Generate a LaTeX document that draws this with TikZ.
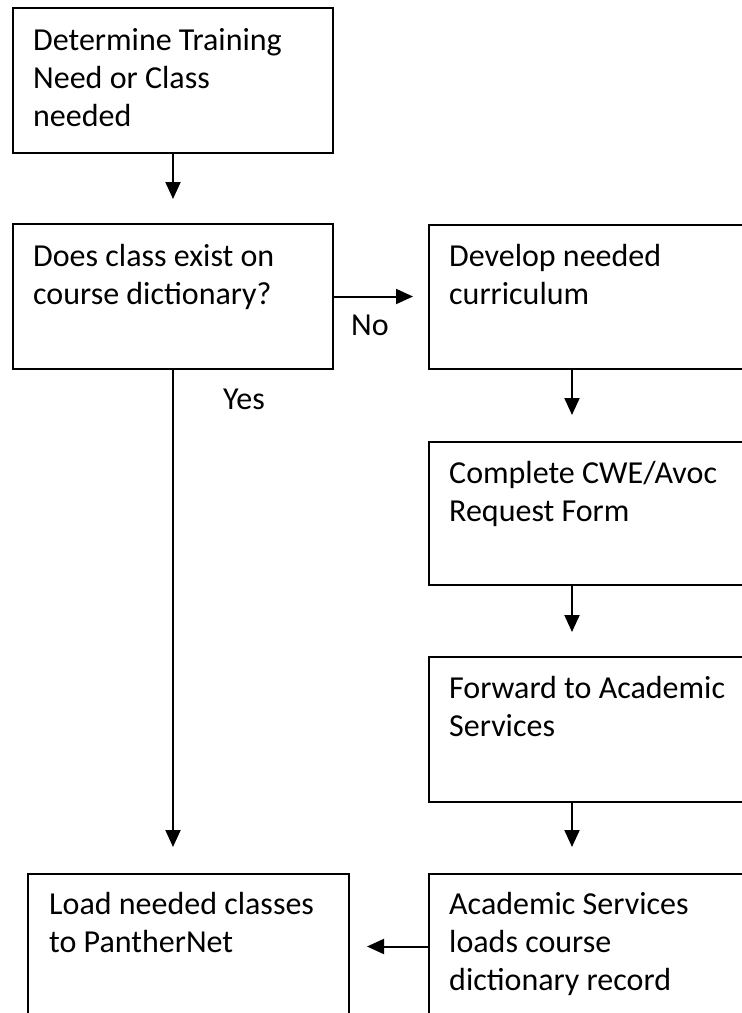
\documentclass[tikz,border=0pt]{standalone}
\usepackage{fontspec}
\setmainfont{Carlito}
\usetikzlibrary{arrows.meta}
\tikzset{
  box/.style={draw=black, line width=2pt, rectangle, inner sep=0pt, anchor=north west},
  txt/.style={anchor=north west, inner sep=0pt, align=left, font=\fontsize{32}{38}\selectfont},
  lbl/.style={inner sep=0pt, font=\fontsize{32}{38}\selectfont},
  arr/.style={line width=2pt, -{Triangle[width=15pt,length=17pt]}},
}
\begin{document}
\begin{tikzpicture}[x=1pt, y=-1pt]
\useasboundingbox (0,0) rectangle (742,1013);
\fill[white] (0,0) rectangle (742,1013);
\clip (0,0) rectangle (742,1013);

% boxes
\node[box, minimum width=320pt, minimum height=145pt] (need) at (12,7) {};
\node[box, minimum width=320pt, minimum height=145pt] (exists) at (12,223) {};
\node[box, minimum width=340pt, minimum height=144pt] (develop) at (428,224) {};
\node[box, minimum width=340pt, minimum height=143pt] (form) at (428,441) {};
\node[box, minimum width=340pt, minimum height=145pt] (forward) at (428,656) {};
\node[box, minimum width=321pt, minimum height=145pt] (load) at (27,873) {};
\node[box, minimum width=340pt, minimum height=145pt] (acad) at (428,873) {};

% texts
\node[txt] (t1) at ([xshift=21pt,yshift=-17pt]need.north west) {\strut Determine Training\\Need or Class\\needed};
\node[txt] (t2) at ([xshift=21pt,yshift=-17pt]exists.north west) {\strut Does class exist on\\course dictionary?};
\node[txt] (t3) at ([xshift=21pt,yshift=-16pt]develop.north west) {\strut Develop needed\\curriculum};
\node[txt] (t4) at ([xshift=21pt,yshift=-16pt]form.north west) {\strut Complete CWE/Avoc\\Request Form};
\node[txt] (t5) at ([xshift=21pt,yshift=-16pt]forward.north west) {\strut Forward to Academic\\Services};
\node[txt] (t6) at ([xshift=22pt,yshift=-15pt]load.north west) {\strut Load needed classes\\to PantherNet};
\node[txt] (t7) at ([xshift=21pt,yshift=-15pt]acad.north west) {\strut Academic Services\\loads course\\dictionary record};

% connector anchor points on the right column
\coordinate (c1) at ([xshift=144pt]develop.south west);
\coordinate (c2) at ([xshift=144pt]form.south west);
\coordinate (c3) at ([xshift=144pt]forward.south west);

% connectors
\draw[arr, shorten >=24pt] (need.south) -- (need.south |- exists.north);
\draw[arr, shorten >=15pt] (exists.east) -- (exists.east -| develop.west);
\draw[arr, shorten >=26pt] (c1) -- (c1 |- form.north);
\draw[arr, shorten >=24pt] (c2) -- (c2 |- forward.north);
\draw[arr, shorten >=26pt] (c3) -- (c3 |- acad.north);
\draw[arr, shorten >=26pt] (exists.south) -- (exists.south |- load.north);
\draw[arr, shorten >=17pt] (acad.west) -- (acad.west -| load.east);

% labels
\node[lbl, anchor=base] (no) at (370,335) {No};
\node[lbl, anchor=base] (yes) at (244,409) {Yes};
\end{tikzpicture}
\end{document}
